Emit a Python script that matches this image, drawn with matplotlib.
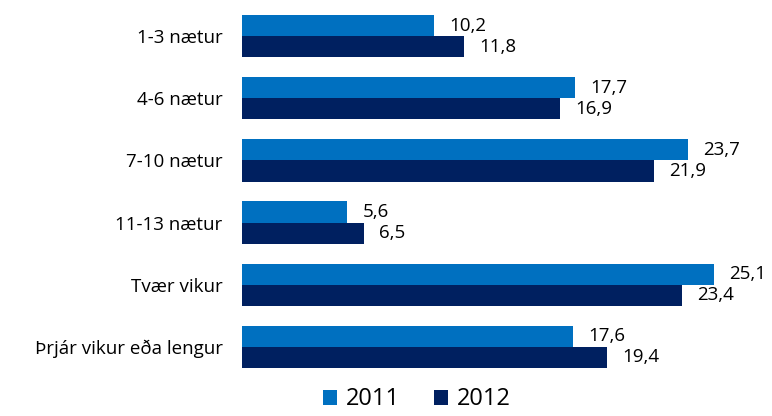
import numpy as np
import matplotlib.pyplot as plt

categories = ["1-3 nætur", "4-6 nætur", "7-10 nætur", "11-13 nætur", "Tvær vikur", "Þrjár vikur eða lengur"]
vals_2011 = [10.2, 17.7, 23.7, 5.6, 25.1, 17.6]
vals_2012 = [11.8, 16.9, 21.9, 6.5, 23.4, 19.4]
series_names = ["2011", "2012"]

plt.rcParams["font.family"] = ["Open Sans", "DejaVu Sans"]

fig = plt.figure(figsize=(7.72, 4.16), dpi=100)
ax = fig.add_axes([242 / 772, 1 - 378 / 416, 510 / 772, 373 / 416])

y = np.arange(len(categories))
h = 0.34
c1, c2 = "#0070C0", "#002060"
b1 = ax.barh(y - h / 2, vals_2011, height=h, color=c1, label=series_names[0])
b2 = ax.barh(y + h / 2, vals_2012, height=h, color=c2, label=series_names[1])

for bars, vals in ((b1, vals_2011), (b2, vals_2012)):
    for bar, v in zip(bars, vals):
        ax.annotate(f"{v:.1f}".replace(".", ","), (bar.get_width(), bar.get_y() + bar.get_height() / 2),
                    xytext=(11, 0), textcoords="offset points", va="center", ha="left", fontsize=13.5)

ax.set_xlim(0, 510 / 18.8)
ax.set_ylim(len(categories) - 0.5, -0.5)
ax.set_yticks(y)
ax.set_yticklabels(categories, fontsize=13.5)
ax.tick_params(axis="y", length=0, pad=14)
ax.set_xticks([])
for s in ax.spines.values():
    s.set_visible(False)

fig.legend(loc="lower center", bbox_to_anchor=(0.54, -0.04), ncol=2, frameon=False, fontsize=17,
           handlelength=0.6, handleheight=0.6, handletextpad=0.4, columnspacing=1.4)

fig.savefig("out.png", dpi=100)
